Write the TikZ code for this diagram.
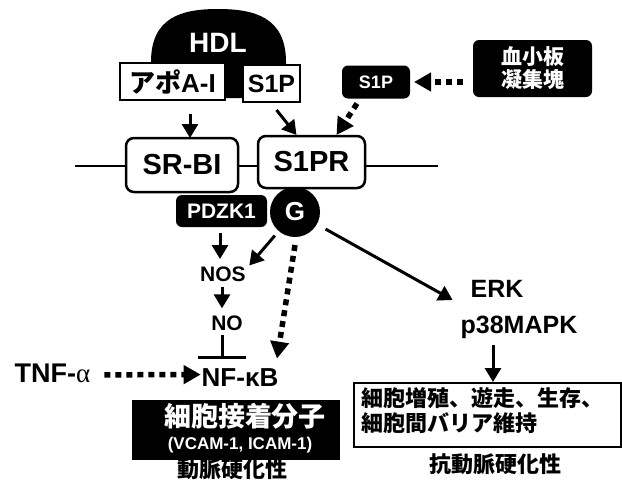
\documentclass[tikz,border=0pt]{standalone}
\usepackage{fontspec}
\setmainfont{Liberation Sans}
\newfontfamily\jp{Noto Sans CJK JP}
\newfontfamily\grk{Liberation Serif}
\usetikzlibrary{arrows.meta,calc}
\newcommand\fsz[2]{\fontsize{#1}{#2}\selectfont}
\begin{document}
\begin{tikzpicture}[x=1pt,y=-1pt,
  every node/.style={inner sep=0pt,outer sep=0pt,font=\bfseries},
  arr/.style={line width=3pt,-{Triangle[length=14pt,width=16pt]}},
  darr/.style={line width=5.5pt,dash pattern=on 6pt off 5pt,-{Triangle[length=17pt,width=18pt]}},
  wbox/.style={draw,line width=2pt,fill=white},
  rbox/.style={draw,line width=2.5pt,fill=white,rounded corners=8pt},
  bbox/.style={fill=black,text=white,rounded corners=6pt},
  wtxt/.style={text=white},
]
\useasboundingbox[fill=white] (0,0) rectangle (622,480);

% membrane
\draw[line width=1.8pt] (75,166) -- (438,166);

% HDL dome
\fill (151,98) -- (151,62) .. controls (151,17) and (182,9) .. (218,9)
  .. controls (254,9) and (286,17) .. (286,62) -- (286,98) -- cycle;
\node[wtxt,anchor=base,font=\bfseries\fsz{28}{28}] (hdl) at (218,52) {HDL};

\node[wbox,minimum width=105,minimum height=37,font=\bfseries\fsz{26}{26}] (apo) at (172.5,81.5) {{\jp\bfseries アポ}A-I};
\node[wbox,minimum width=57,minimum height=37,font=\bfseries\fsz{25}{25}] (s1pw) at (271.5,83.5) {S1P};
\node[bbox,minimum width=68,minimum height=33,font=\bfseries\fsz{18}{18}] (s1pb) at (376,82) {S1P};
\node[bbox,minimum width=119,minimum height=57,align=center,font=\jp\bfseries\fsz{21}{23}] (plt) at (532.5,68.5) {血小板\\凝集塊};

\node[rbox,minimum width=112,minimum height=54,font=\bfseries\fsz{29}{29}] (srbi) at (182,165) {SR-BI};
\node[rbox,minimum width=107,minimum height=52,font=\bfseries\fsz{29}{29}] (s1pr) at (311.5,162) {S1PR};

\node[bbox,minimum width=91,minimum height=32,font=\bfseries\fsz{21}{21}] (pdzk) at (221.5,211) {PDZK1};
\node[circle,fill=black,text=white,minimum size=50,font=\bfseries\fsz{26}{26}] (g) at (295,212) {G};

\node[anchor=base,font=\bfseries\fsz{21}{21}] (nos) at (223,281.7) {NOS};
\node[anchor=base,font=\bfseries\fsz{21}{21}] (no) at (227,330) {NO};
\node[anchor=base,font=\bfseries\fsz{26}{26}] (nfkb) at (240,386.5) {NF-κB};
\node[anchor=base,font=\bfseries\fsz{27}{27}] (tnf) at (52.5,382.5) {TNF-{\grk\mdseries α}};

\node[fill=black,minimum width=208,minimum height=60] (cam) at (236,430) {};
\node[wtxt,font=\jp\bfseries\fsz{27}{27}] (camt) at (245,416) {細胞接着分子};
\node[wtxt,font=\bfseries\fsz{17}{17}] (vcam) at (240,445) {(VCAM-1, ICAM-1)};
\node[font=\jp\bfseries\fsz{22}{22}] (athero) at (232,469) {動脈硬化性};

\node[anchor=base,font=\bfseries\fsz{25}{25}] (erk) at (497,297) {ERK};
\node[anchor=base,font=\bfseries\fsz{25}{25}] (p38) at (519,333) {p38MAPK};

\node[draw,line width=2pt,minimum width=267,minimum height=64] (wb) at (487.5,415) {};
\node[anchor=west,font=\jp\bfseries\fsz{22}{22}] (wb1) at (361,398) {細胞増殖、遊走、生存、};
\node[anchor=west,font=\jp\bfseries\fsz{22}{22}] (wb2) at (361,423) {細胞間バリア維持};
\node[font=\jp\bfseries\fsz{22}{22}] (anti) at (495,464) {抗動脈硬化性};

% connectors
\draw[arr] ($(apo.south)+(17.5,14)$) -- ($(srbi.north)+(8,0)$);
\draw[arr] ($(s1pw.south)+(5,8)$) -- ($(s1pr.north)+(-15,-1)$);
\draw[darr] ($(s1pb.south)+(-19,5)$) -- ($(s1pr.north)+(25,-1)$);
\draw[darr,shorten <=10pt,shorten >=4pt] (plt.west |- s1pb.east) -- (s1pb.east);

\draw[arr] ($(pdzk.south)+(-1.5,6)$) -- ($(nos.north)+(-3,-8)$);
\draw[arr,shorten <=6pt] (g) -- ($(nos.east)+(3.5,-9)$);
\draw[arr] ($(nos.south)+(-1,5)$) -- ($(no.north)+(-5,-7)$);
\draw[line width=3pt,-{Bar[width=48pt,line width=3pt]}] ($(no.south)+(-5,5)$) -- ($(no.south)+(-5,29)$);
\draw[darr] ($(g.south)+(0,8)$) -- ($(nfkb.north)+(37,-10)$);
\draw[darr] ($(tnf.east)+(14,1.5)$) -- ($(nfkb.west)+(-1,-3)$);

\draw[arr,shorten <=10pt] (g) -- ($(erk.south west)+(-18,3)$);
\draw[arr] ($(p38.south)+(-26,7)$) -- ($(wb.north)+(5.5,-1)$);
\end{tikzpicture}
\end{document}
